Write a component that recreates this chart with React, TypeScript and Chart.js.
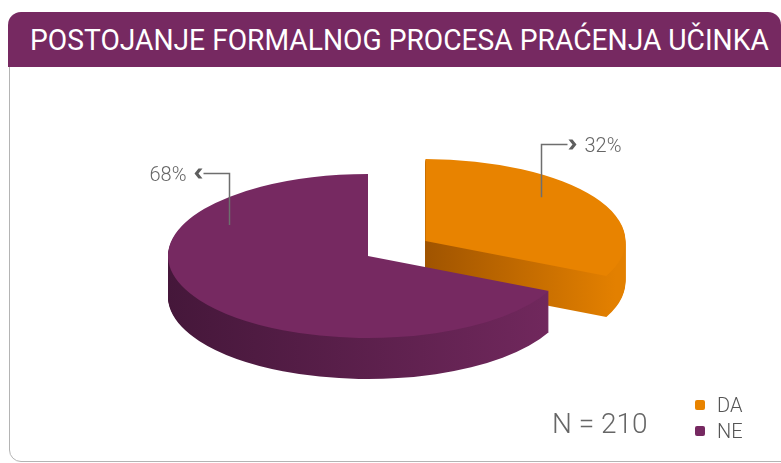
import React, { useEffect, useRef } from 'react';
import { Chart, registerables } from 'chart.js';

Chart.register(...registerables);

// ---- data ----
const TITLE = 'POSTOJANJE FORMALNOG PROCESA PRAĆENJA UČINKA';
const categories = ['DA', 'NE'];
const values = [32, 68];
const sampleSize = 210;

// ---- styles ----
const COLORS = ['#e88300', '#762961'];
const SIDE_DARK = ['#a05400', '#45173a'];
const SIDE_LIGHT = ['#e38000', '#71285d'];
const W = 781;
const H = 463;
const CX = 368;
const CY = 256;
const R = 200;
const K = 0.41;
const DEPTH = 41;
const EXPLODE = [68, 0];
const LABEL_GEOM = [
  { angleFrac: 0.41, rFrac: 0.785, rise: 53, dir: 1 },
  { angleFrac: 0.749, rFrac: 0.79, rise: 52, dir: -1 },
];
const TEXT_COLOR = '#666666';
const FONT = 'Roboto, "Noto Sans", sans-serif';

function explodeOffset(arc: any, i: number) {
  const mid = (arc.startAngle + arc.endAngle) / 2;
  return { ex: Math.cos(mid) * EXPLODE[i], ey: Math.sin(mid) * EXPLODE[i] };
}

const pie3d = {
  id: 'pie3d',
  beforeDatasetsDraw(chart: any) {
    const ctx: CanvasRenderingContext2D = chart.ctx;
    const arcs = chart.getDatasetMeta(0).data as any[];
    arcs.forEach((arc, i) => {
      const { ex, ey } = explodeOffset(arc, i);
      const cx = arc.x;
      const cy = arc.y;
      const orig = arc.options;
      const g = i === 0
        ? ctx.createLinearGradient(cx, 0, cx + 190, 0)
        : ctx.createLinearGradient(cx - R, 0, cx + 185, 0);
      g.addColorStop(0, SIDE_DARK[i]);
      g.addColorStop(1, SIDE_LIGHT[i]);
      arc.options = { ...orig, backgroundColor: g, borderWidth: 0 };
      for (let d = DEPTH; d >= 1; d--) {
        ctx.save();
        ctx.translate(0, d);
        ctx.translate(cx, cy);
        ctx.scale(1, K);
        ctx.translate(-cx, -cy);
        ctx.translate(ex, ey);
        arc.draw(ctx);
        ctx.restore();
      }
      arc.options = orig;
      ctx.save();
      ctx.translate(cx, cy);
      ctx.scale(1, K);
      ctx.translate(-cx, -cy);
      ctx.translate(ex, ey);
      arc.draw(ctx);
      ctx.restore();
    });
    return false;
  },
  afterDraw(chart: any) {
    const ctx: CanvasRenderingContext2D = chart.ctx;
    const arcs = chart.getDatasetMeta(0).data as any[];
    arcs.forEach((arc, i) => {
      const geo = LABEL_GEOM[i];
      const { ex, ey } = explodeOffset(arc, i);
      const a = arc.startAngle + geo.angleFrac * (arc.endAngle - arc.startAngle);
      const r = geo.rFrac * arc.outerRadius;
      const px = Math.round(arc.x + ex + Math.cos(a) * r) + 0.5;
      const py = arc.y + (ey + Math.sin(a) * r) * K;
      const ty = Math.round(py - geo.rise) + 0.5;
      const hx = px + geo.dir * 26;
      ctx.save();
      ctx.strokeStyle = '#6e6e6e';
      ctx.lineWidth = 1.5;
      ctx.beginPath();
      ctx.moveTo(px, py);
      ctx.lineTo(px, ty);
      ctx.lineTo(hx, ty);
      ctx.stroke();
      // chevron
      const t = hx + geo.dir * 9;
      const d = geo.dir;
      ctx.fillStyle = '#5e5e5e';
      ctx.beginPath();
      ctx.moveTo(t - d * 8, ty - 5);
      ctx.lineTo(t - d * 4, ty - 5);
      ctx.lineTo(t, ty);
      ctx.lineTo(t - d * 4, ty + 5);
      ctx.lineTo(t - d * 8, ty + 5);
      ctx.lineTo(t - d * 4, ty);
      ctx.closePath();
      ctx.fill();
      ctx.fillStyle = TEXT_COLOR;
      ctx.font = '300 20px ' + FONT;
      ctx.textBaseline = 'alphabetic';
      ctx.textAlign = d > 0 ? 'left' : 'right';
      ctx.fillText(values[i] + '%', t + d * 8, ty + 7.5);
      ctx.restore();
    });
  },
};

export default function App() {
  const canvasRef = useRef<HTMLCanvasElement | null>(null);

  useEffect(() => {
    const canvas = canvasRef.current;
    if (!canvas) return;
    const chart = new Chart(canvas, {
      type: 'pie',
      data: {
        labels: categories,
        datasets: [
          {
            data: values,
            backgroundColor: COLORS,
            borderWidth: 0,
            radius: R,
          } as any,
        ],
      },
      options: {
        responsive: false,
        maintainAspectRatio: false,
        animation: false,
        events: [],
        layout: { padding: { left: 0, right: W - 2 * CX, top: 2 * CY - H, bottom: 0 } },
        plugins: {
          legend: { display: false },
          tooltip: { enabled: false },
        },
      } as any,
      plugins: [pie3d as any],
    });
    return () => chart.destroy();
  }, []);

  return (
    <div
      style={{
        position: 'fixed',
        left: 0,
        top: 0,
        width: W,
        height: H,
        overflow: 'hidden',
        background: '#ffffff',
        fontFamily: FONT,
      }}
    >
      <div
        style={{
          position: 'absolute',
          left: 9,
          top: 40,
          width: 800,
          height: 420,
          border: '1.5px solid #b4b4b4',
          borderRadius: 12,
        }}
      />
      <div
        style={{
          position: 'absolute',
          left: 8,
          top: 12,
          width: 773,
          height: 55,
          background: '#762961',
          borderRadius: '13px 13px 0 0',
        }}
      />
      <div
        style={{
          position: 'absolute',
          left: 30,
          top: 12,
          height: 55,
          lineHeight: '55px',
          color: '#ffffff',
          fontSize: 30,
          fontWeight: 400,
          whiteSpace: 'nowrap',
          transform: 'scaleX(0.94)',
          transformOrigin: 'left center',
        }}
      >
        {TITLE}
      </div>
      <canvas
        ref={canvasRef}
        width={W}
        height={H}
        style={{ position: 'absolute', left: 0, top: 0, width: W, height: H }}
      />
      <div
        style={{
          position: 'absolute',
          left: 552,
          top: 405,
          fontSize: 28,
          fontWeight: 300,
          color: TEXT_COLOR,
          whiteSpace: 'nowrap',
          lineHeight: '38px',
        }}
      >
        {'N = ' + sampleSize}
      </div>
      <div style={{ position: 'absolute', left: 695, top: 392 }}>
        {categories.map((c, i) => (
          <div
            key={c}
            style={{ display: 'flex', alignItems: 'center', height: 26 }}
          >
            <span
              style={{
                display: 'inline-block',
                width: 10,
                height: 10,
                borderRadius: 2,
                background: COLORS[i],
                marginRight: 12,
              }}
            />
            <span style={{ fontSize: 20, fontWeight: 300, color: '#555555' }}>{c}</span>
          </div>
        ))}
      </div>
    </div>
  );
}
